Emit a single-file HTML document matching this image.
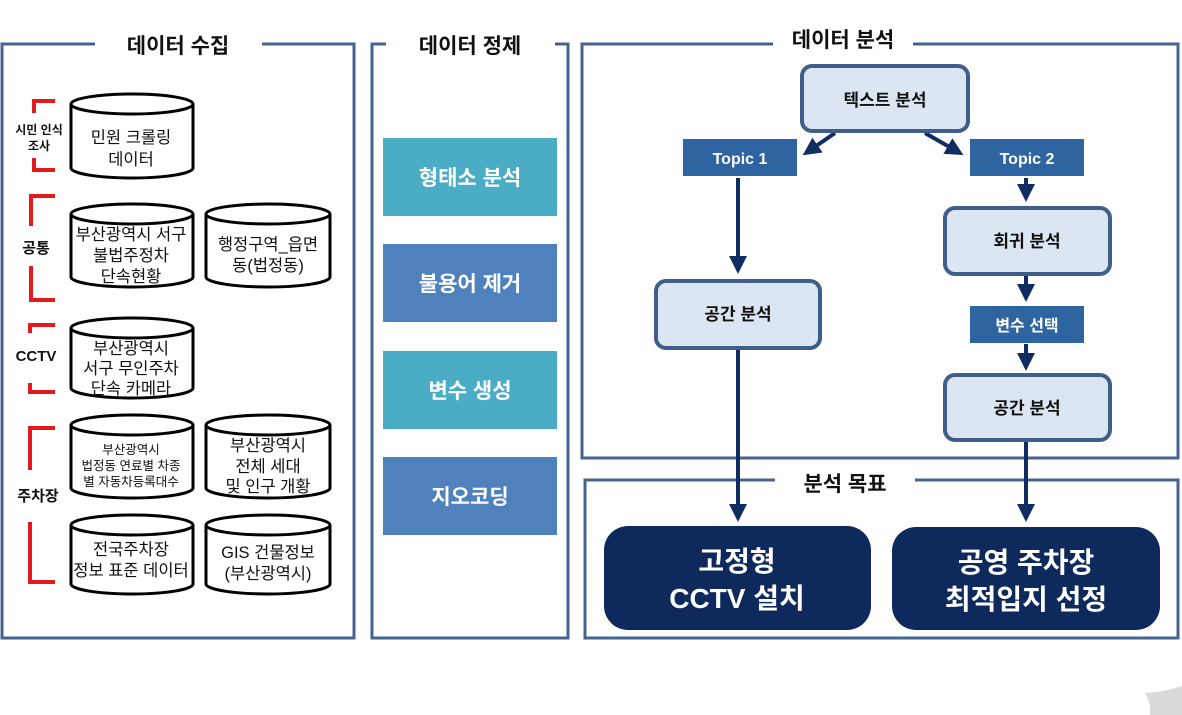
<!DOCTYPE html>
<html><head><meta charset="utf-8"><style>
html,body{margin:0;padding:0;background:#fff;}
svg{display:block;}
text{font-family:"Liberation Sans","Noto Sans CJK KR",sans-serif;}
</style></head><body>
<svg width="1182" height="715" viewBox="0 0 1182 715" xmlns="http://www.w3.org/2000/svg">
<defs>
<marker id="ah" markerWidth="4.5" markerHeight="4.5" refX="3.5" refY="2.25" orient="auto" markerUnits="strokeWidth">
<path d="M0,0 L4.5,2.25 L0,4.5 Z" fill="#0f2c63"/></marker>
</defs>
<g fill="none" stroke="#44638f" stroke-width="3">
<path d="M95,44 H2 V638 H354 V44 H262"/>
<path d="M386,44 H372 V638 H568 V44 H555"/>
<path d="M773,44 H582 V458 H1178 V44 H913"/>
<path d="M775,480 H585 V638 H1178 V480 H915"/>
</g>
<g font-weight="bold" font-size="21" fill="#111" text-anchor="middle">
<text x="178" y="53">데이터 수집</text>
<text x="470" y="53">데이터 정제</text>
<text x="843" y="47">데이터 분석</text>
<text x="845" y="491">분석 목표</text>
</g>

<g fill="none" stroke="#e3191e" stroke-width="4">
<path d="M55,101 H34 V113 M34,158 V170 H55"/>
<path d="M55,196 H31 V226 M31,266 V300 H55"/>
<path d="M55,325 H30 V333 M30,383 V392 H55"/>
<path d="M55,428 H30 V470 M30,522 V582 H55"/>
</g>
<g font-weight="bold" fill="#111" text-anchor="middle">
<text x="39" y="134" font-size="12">시민 인식</text>
<text x="39" y="150" font-size="12">조사</text>
<text x="36" y="253" font-size="15">공통</text>
<text x="36" y="361" font-size="15">CCTV</text>
<text x="38" y="501" font-size="15">주차장</text>
</g>

<g fill="#fff" stroke="#000" stroke-width="3">
<path d="M71,104 V168 A61,10 0 0 0 193,168 V104 A61,10 0 0 0 71,104 A61,10 0 0 0 193,104"/>
<path d="M71,214 V277 A61,10 0 0 0 193,277 V214 A61,10 0 0 0 71,214 A61,10 0 0 0 193,214"/>
<path d="M206,214 V277 A62,10 0 0 0 330,277 V214 A62,10 0 0 0 206,214 A62,10 0 0 0 330,214"/>
<path d="M71,328 V388 A61,10 0 0 0 193,388 V328 A61,10 0 0 0 71,328 A61,10 0 0 0 193,328"/>
<path d="M71,425 V488 A61,10 0 0 0 193,488 V425 A61,10 0 0 0 71,425 A61,10 0 0 0 193,425"/>
<path d="M206,425 V488 A62,10 0 0 0 330,488 V425 A62,10 0 0 0 206,425 A62,10 0 0 0 330,425"/>
<path d="M71,525 V584 A61,10 0 0 0 193,584 V525 A61,10 0 0 0 71,525 A61,10 0 0 0 193,525"/>
<path d="M206,525 V584 A62,10 0 0 0 330,584 V525 A62,10 0 0 0 206,525 A62,10 0 0 0 330,525"/>
</g>
<g fill="#111" text-anchor="middle" font-size="16.5">
<text x="131" y="143">민원 크롤링</text>
<text x="131" y="165">데이터</text>
<text x="131" y="240">부산광역시 서구</text>
<text x="131" y="261">불법주정차</text>
<text x="131" y="282">단속현황</text>
<text x="268" y="250">행정구역_읍면</text>
<text x="268" y="271">동(법정동)</text>
<text x="131" y="354">부산광역시</text>
<text x="131" y="374">서구 무인주차</text>
<text x="131" y="394">단속 카메라</text>
<text x="131" y="454" font-size="12.5">부산광역시</text>
<text x="131" y="470" font-size="12.5">법정동 연료별 차종</text>
<text x="131" y="486" font-size="12.5">별 자동차등록대수</text>
<text x="268" y="451">부산광역시</text>
<text x="268" y="472">전체 세대</text>
<text x="268" y="492">및 인구 개황</text>
<text x="131" y="555">전국주차장</text>
<text x="131" y="576">정보 표준 데이터</text>
<text x="268" y="558">GIS 건물정보</text>
<text x="268" y="579">(부산광역시)</text>
</g>

<rect x="383" y="138" width="174" height="78" fill="#4bacc6"/>
<rect x="383" y="244" width="174" height="78" fill="#4f81bd"/>
<rect x="383" y="351" width="174" height="78" fill="#4bacc6"/>
<rect x="383" y="457" width="174" height="78" fill="#4f81bd"/>
<g fill="#fff" font-weight="bold" font-size="21" text-anchor="middle">
<text x="470" y="185">형태소 분석</text>
<text x="470" y="291">불용어 제거</text>
<text x="470" y="398">변수 생성</text>
<text x="470" y="504">지오코딩</text>
</g>

<g stroke="#0f2c63" stroke-width="4" fill="none" marker-end="url(#ah)">
<line x1="835" y1="133" x2="806" y2="153"/>
<line x1="925" y1="133" x2="960" y2="153"/>
<line x1="738" y1="178" x2="738" y2="270"/>
<line x1="1026" y1="178" x2="1026" y2="198"/>
<line x1="1026" y1="276" x2="1026" y2="298"/>
<line x1="1026" y1="344" x2="1026" y2="367"/>
<line x1="738" y1="348" x2="738" y2="518"/>
<line x1="1026" y1="442" x2="1026" y2="518"/>
</g>
<g fill="#dce6f2" stroke="#3e5f8a" stroke-width="4">
<rect x="802" y="66" width="166" height="65" rx="10"/>
<rect x="656" y="281" width="164" height="67" rx="10"/>
<rect x="945" y="208" width="165" height="66" rx="10"/>
<rect x="945" y="375" width="165" height="65" rx="10"/>
</g>
<rect x="683" y="139" width="114" height="37" fill="#2e64a0"/>
<rect x="970" y="139" width="114" height="37" fill="#2e64a0"/>
<rect x="970" y="306" width="114" height="37" fill="#2e64a0"/>
<g font-weight="bold" text-anchor="middle">
<text x="885" y="106" font-size="17" fill="#111">텍스트 분석</text>
<text x="738" y="320" font-size="17" fill="#111">공간 분석</text>
<text x="1027" y="247" font-size="17" fill="#111">회귀 분석</text>
<text x="1027" y="414" font-size="17" fill="#111">공간 분석</text>
<text x="740" y="164" font-size="16" fill="#fff">Topic 1</text>
<text x="1027" y="164" font-size="16" fill="#fff">Topic 2</text>
<text x="1027" y="331" font-size="16" fill="#fff">변수 선택</text>
</g>

<rect x="604" y="526" width="267" height="104" rx="24" fill="#0e2a5c"/>
<rect x="892" y="527" width="268" height="103" rx="24" fill="#0e2a5c"/>
<g fill="#fff" font-weight="bold" font-size="28" text-anchor="middle">
<text x="737" y="571">고정형</text>
<text x="737" y="608">CCTV 설치</text>
<text x="1026" y="572">공영 주차장</text>
<text x="1026" y="609">최적입지 선정</text>
</g>

<path d="M1145,693 Q1165,692 1182,686 V715 H1150 Q1151,702 1145,693 Z" fill="#d9d9d9"/>
</svg>
</body></html>
